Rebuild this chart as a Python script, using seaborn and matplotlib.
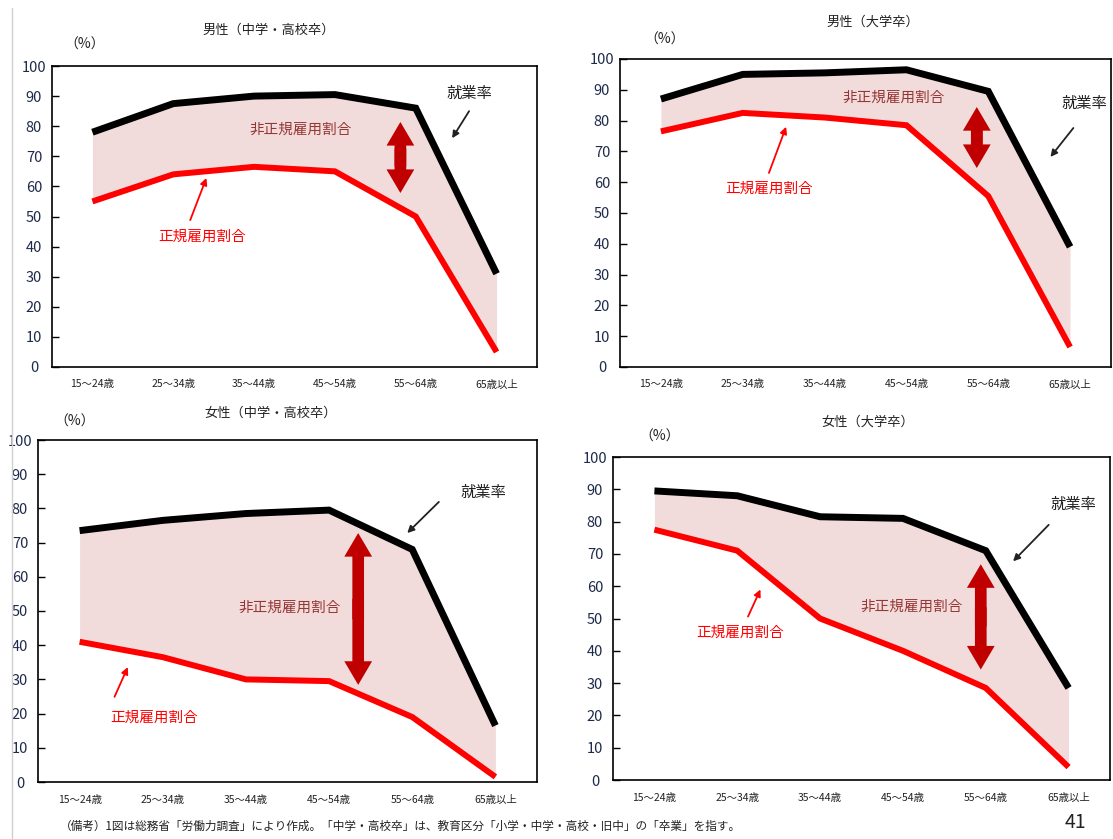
import pandas as pd
import seaborn as sns
import matplotlib.pyplot as plt
from matplotlib.lines import Line2D
from matplotlib.patches import FancyArrowPatch
from matplotlib.transforms import offset_copy

# age groups (x axis)
ages = ['15～24歳', '25～34歳', '35～44歳', '45～54歳', '55～64歳', '65歳以上']

# 就業率 / 正規雇用割合 (%)
emp_m_hs = [78, 87.5, 90, 90.5, 86, 31]
reg_m_hs = [55, 64, 66.5, 65, 50, 5]
emp_m_univ = [87, 95, 95.5, 96.5, 89.5, 39]
reg_m_univ = [76.5, 82.5, 81, 78.5, 55.5, 6.5]
emp_f_hs = [73.5, 76.5, 78.5, 79.5, 68, 16.5]
reg_f_hs = [41, 36.5, 30, 29.5, 19, 1.5]
emp_f_univ = [89.5, 88, 81.5, 81, 71, 28.5]
reg_f_univ = [77.5, 71, 50, 40, 28.5, 4]

titles = ['男性（中学・高校卒）', '男性（大学卒）', '女性（中学・高校卒）', '女性（大学卒）']
note = '（備考）1図は総務省「労働力調査」により作成。「中学・高校卒」は、教育区分「小学・中学・高校・旧中」の「卒業」を指す。'

sns.set_style("white")
plt.rcParams['font.family'] = ['Noto Sans CJK JP', 'DejaVu Sans']

W, H = 1113, 839
fig = plt.figure(figsize=(W / 100, H / 100), dpi=100)


def add_ax(left, right, top, bottom):
    return fig.add_axes([left / W, 1 - bottom / H, (right - left) / W, (bottom - top) / H])


FILL = '#f2dcdb'
DARKRED = '#c00000'


def draw_panel(ax, emp, reg, title, title_off, pct_x, pct_up, dbl, lab_non, lab_reg,
               arr_reg, lab_emp, arr_emp):
    df = pd.DataFrame({
        'x': list(range(len(ages))) * 2,
        'value': emp + reg,
        'series': ['就業率'] * len(ages) + ['正規雇用割合'] * len(ages),
    })
    xs = list(range(len(ages)))
    ax.fill_between(xs, reg, emp, color=FILL, lw=0, zorder=1)
    sns.lineplot(data=df, x='x', y='value', hue='series',
                 palette={'就業率': 'black', '正規雇用割合': '#ff0000'},
                 linewidth=5, legend=False, ax=ax, zorder=3)
    for l in ax.lines:
        l.set_solid_joinstyle('miter')
        l.set_solid_capstyle('butt')
    ax.lines[1].set_linewidth(4.3)

    ax.set_xlim(-0.5, 5.5)
    ax.set_ylim(0, 100)
    ax.set_yticks(range(0, 101, 10))
    ax.set_xticks(xs)
    ax.set_xticklabels(ages, fontsize=7.5, color='#222')
    ax.set_xticks([i + 0.5 for i in range(5)], minor=True)
    ax.tick_params(axis='x', which='major', length=0, pad=9)
    ax.tick_params(axis='x', which='minor', direction='in', length=5, width=1)
    ax.tick_params(axis='y', direction='in', length=5, width=1, labelsize=10.5,
                   colors='black', labelcolor='#1e2a4a', pad=13, left=True)
    for lbl in ax.get_yticklabels():
        lbl.set_horizontalalignment('center')
    ax.set_xlabel('')
    ax.set_ylabel('')
    for s in ax.spines.values():
        s.set_color('black')
        s.set_linewidth(1.2)

    # title and (%) placed by pixel offsets from the axes top
    tt = offset_copy(ax.transAxes, fig=fig, x=title_off[0], y=title_off[1], units='dots')
    ax.text(0.5, 1.0, title, transform=tt, ha='center', va='center',
            fontsize=9.5, color='#222')
    pt = offset_copy(ax.transAxes, fig=fig, x=pct_x, y=pct_up, units='dots')
    ax.text(0.0, 1.0, '（%）', transform=pt, ha='center', va='center',
            fontsize=10, color='#222')

    # double arrow: two halves that overlap a little in the middle
    x, y1, y2 = dbl
    ym = (y1 + y2) / 2
    for start, yy in ((ym - 3, y1), (ym + 3, y2)):
        ax.add_patch(FancyArrowPatch((x, start), (x, yy),
                                     arrowstyle='simple,head_width=1.0,head_length=0.85,tail_width=0.42',
                                     mutation_scale=20, color=DARKRED, lw=0,
                                     shrinkA=0, shrinkB=0, zorder=4))
    ax.text(*lab_non, '非正規雇用割合', ha='center', va='center', fontsize=10.5,
            color='#953735', zorder=5)
    ax.text(*lab_reg, '正規雇用割合', ha='center', va='center', fontsize=10.5,
            color='#ff0000', zorder=5)
    ax.annotate('', xy=arr_reg[1], xytext=arr_reg[0],
                arrowprops=dict(arrowstyle='-|>', color='#ff0000', lw=1.3,
                                mutation_scale=10, shrinkA=0, shrinkB=0))
    ax.text(*lab_emp, '就業率', ha='center', va='center', fontsize=11,
            color='#222', zorder=5)
    ax.annotate('', xy=arr_emp[1], xytext=arr_emp[0],
                arrowprops=dict(arrowstyle='-|>', color='#222', lw=1.3,
                                mutation_scale=10, shrinkA=0, shrinkB=0))


ax1 = add_ax(52, 537, 66, 367)
draw_panel(ax1, emp_m_hs, reg_m_hs, titles[0], (-26, 36), 33, 21,
           (3.81, 81.4, 57.8), (2.58, 78.7), (1.36, 43.2),
           ((1.21, 48.8), (1.41, 62.8)), (4.66, 91), ((4.66, 85), (4.45, 76)))

ax2 = add_ax(620, 1111, 59, 367)
draw_panel(ax2, emp_m_univ, reg_m_univ, titles[1], (7, 37), 45, 19,
           (3.86, 84.4, 64.6), (2.84, 87.3), (1.32, 58),
           ((1.32, 63), (1.53, 78)), (5.18, 85.7), ((5.04, 77.6), (4.76, 68.2)))

ax3 = add_ax(38, 537, 440, 782)
draw_panel(ax3, emp_f_hs, reg_f_hs, titles[2], (-17, 27), 37, 18,
           (3.35, 72.8, 28.4), (2.53, 51), (0.9, 18.7),
           ((0.42, 24.9), (0.58, 33.6)), (4.86, 84.8), ((4.32, 81.9), (3.94, 72.8)))

ax4 = add_ax(613, 1110, 457, 780)
draw_panel(ax4, emp_f_univ, reg_f_univ, titles[3], (6, 35), 47, 20,
           (3.94, 66.8, 34.2), (3.11, 53.7), (1.04, 45.7),
           ((1.13, 50.6), (1.28, 59)), (5.06, 85.4), ((4.76, 79), (4.33, 67.7)))

# page border line and footer
fig.add_artist(Line2D([12 / W, 12 / W], [0, 1 - 8 / H], color='#d0d0d0', lw=1))
fig.text(60 / W, 1 - 826 / H, note, ha='left', va='center', fontsize=8.4, color='#222')
fig.text(1075 / W, 1 - 822 / H, '41', ha='center', va='center', fontsize=14, color='#222')

fig.savefig('out.png', dpi=100)
